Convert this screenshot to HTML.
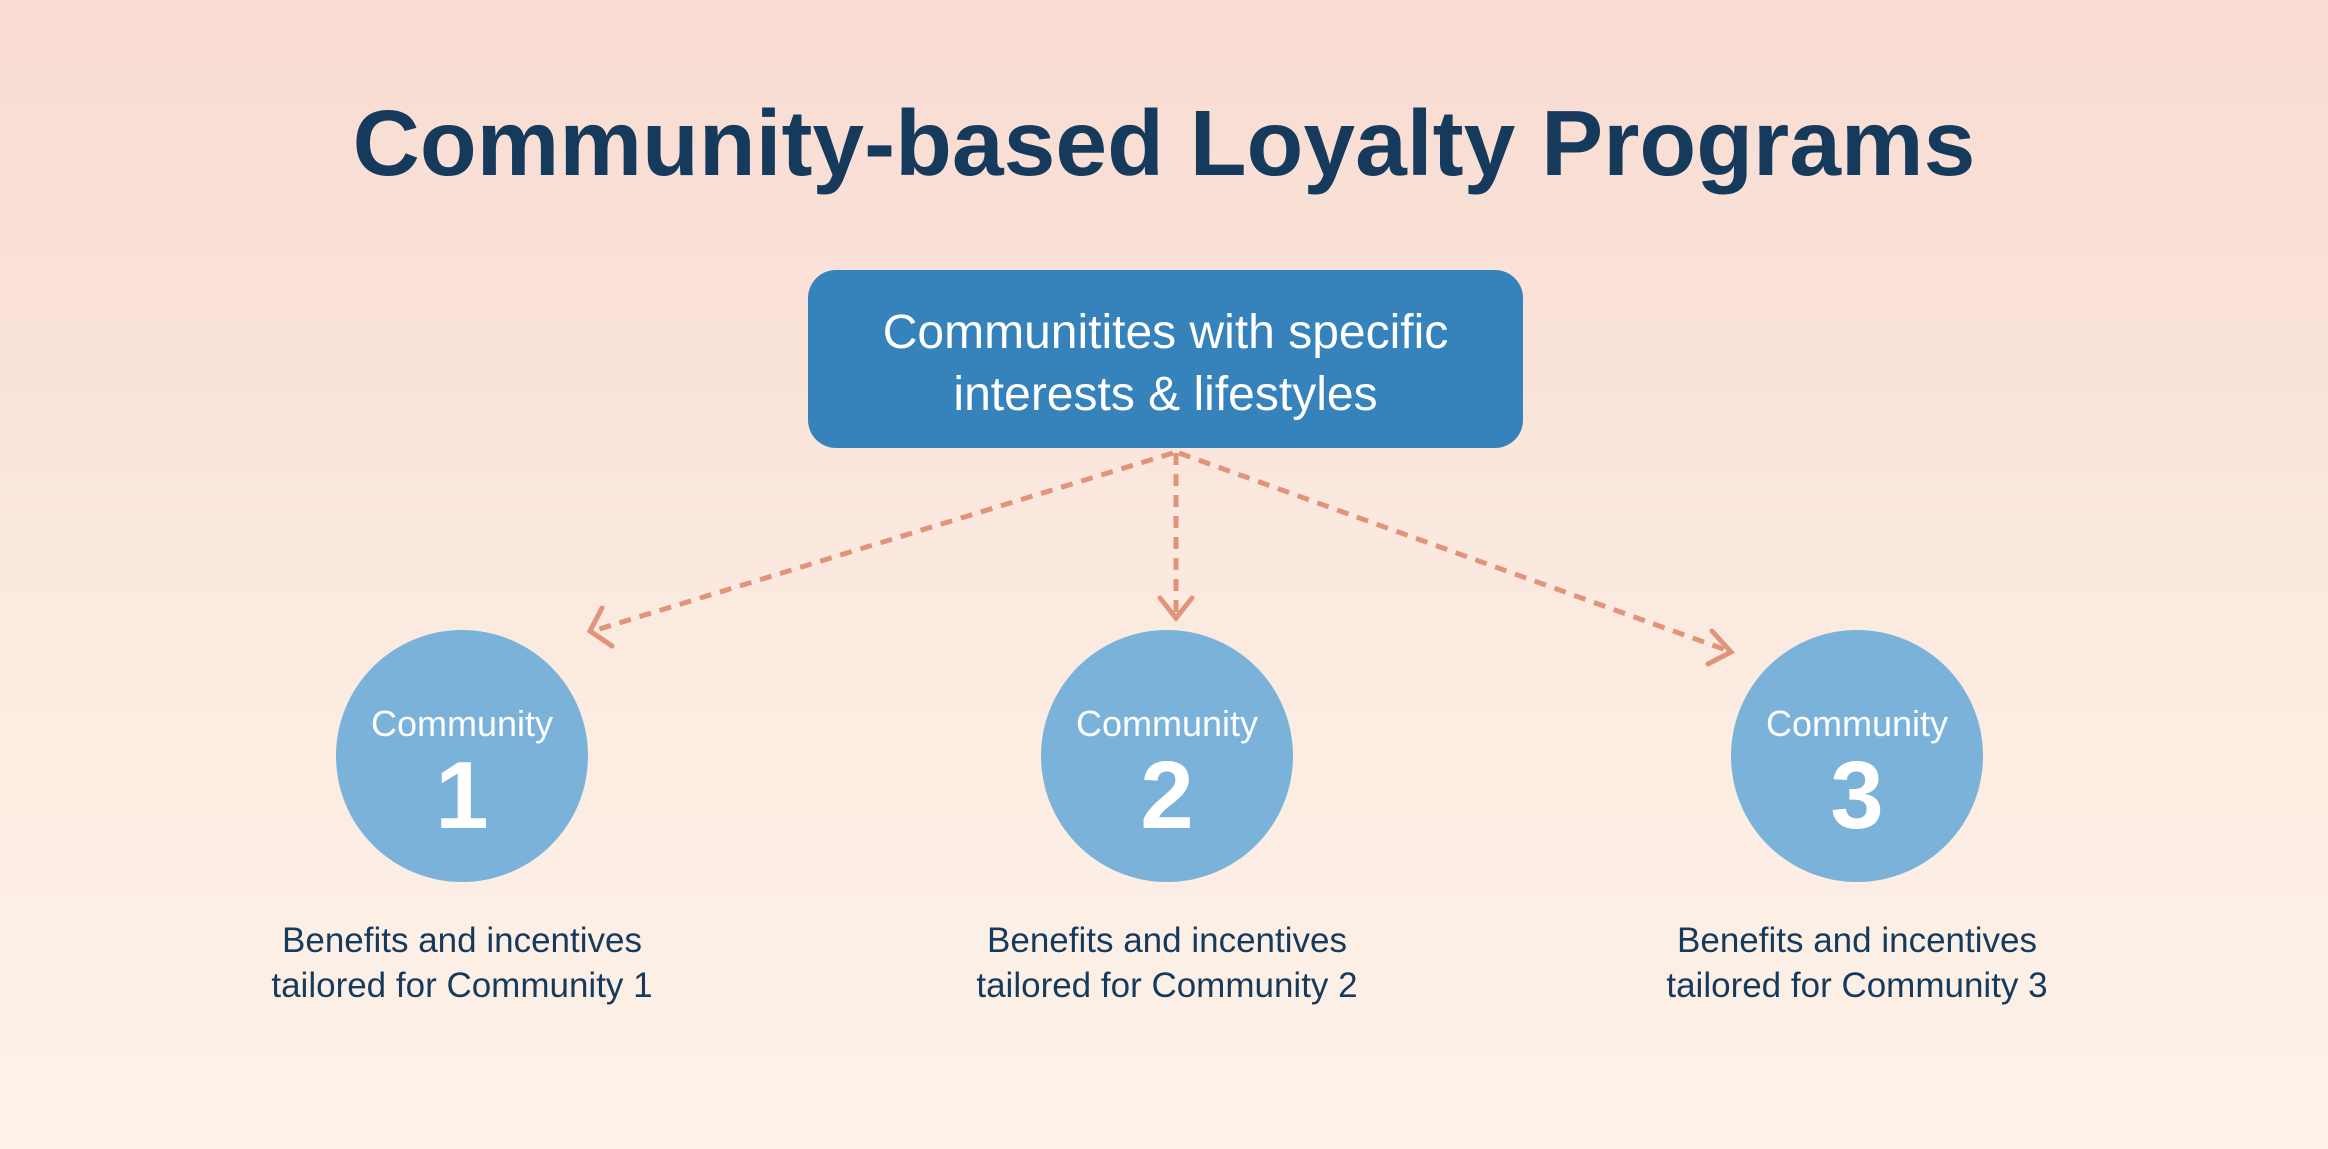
<!DOCTYPE html>
<html><head><style>
html,body{margin:0;padding:0}
body{width:2328px;height:1149px;position:relative;overflow:hidden;background:linear-gradient(#f8dbd1 0%,#fbe9df 50%,#fdf3e9 100%);font-family:"Liberation Sans",sans-serif}
.t{position:absolute;left:0;width:2328px;text-align:center;top:90px;font-size:93px;font-weight:bold;color:#163a5c;letter-spacing:0px}
.box{position:absolute;left:808px;top:270px;width:715px;height:178px;background:#3682bb;border-radius:28px;color:#fff;font-size:48px;text-align:center;line-height:62px;box-sizing:border-box;padding-top:32px}
.c{position:absolute;width:252px;height:252px;border-radius:50%;background:#7ab2d9;color:#fff;text-align:center;top:630px}
.c .a{position:absolute;top:73px;width:100%;font-size:36px}
.c .n{position:absolute;top:111px;width:100%;font-size:96px;font-weight:bold}
.d{position:absolute;width:600px;text-align:center;top:918px;color:#163a5c;font-size:35px;line-height:45px}
</style></head><body>
<div class="t">Community-based Loyalty Programs</div>
<svg width="2328" height="1149" style="position:absolute;left:0;top:0">
<g stroke="#e0957a" stroke-width="5" fill="none" stroke-dasharray="12 9">
<line x1="1173" y1="453" x2="596" y2="630"/>
<line x1="1176" y1="453" x2="1176" y2="612"/>
<line x1="1179" y1="453" x2="1726" y2="650"/>
</g>
<g stroke="#e0957a" stroke-width="5" fill="none" stroke-linecap="round">
<polyline points="602,608 590,631 612,646"/>
<polyline points="1160,598 1176,618 1192,598"/>
<polyline points="1712,631 1731,652 1708,664"/>
</g>
</svg>
<div class="box">Communitites with specific<br>interests &amp; lifestyles</div>
<div class="c" style="left:336px"><div class="a">Community</div><div class="n">1</div></div>
<div class="c" style="left:1041px"><div class="a">Community</div><div class="n">2</div></div>
<div class="c" style="left:1731px"><div class="a">Community</div><div class="n">3</div></div>
<div class="d" style="left:162px">Benefits and incentives<br>tailored for Community 1</div>
<div class="d" style="left:867px">Benefits and incentives<br>tailored for Community 2</div>
<div class="d" style="left:1557px">Benefits and incentives<br>tailored for Community 3</div>
</body></html>
